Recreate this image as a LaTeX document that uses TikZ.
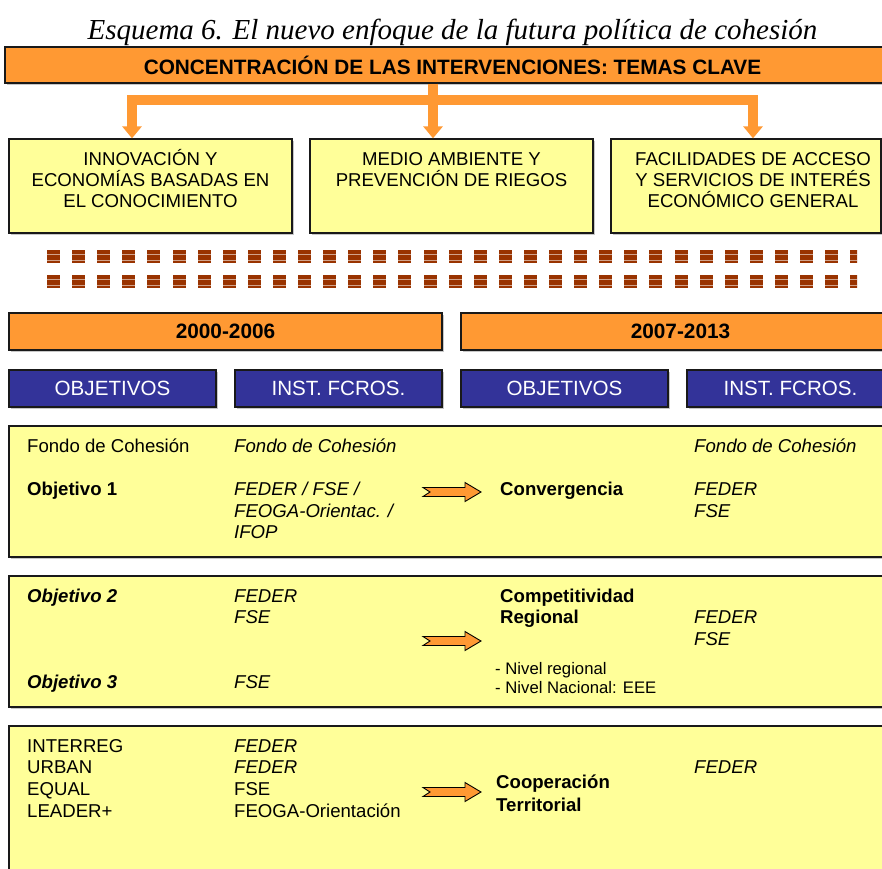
\documentclass[tikz,border=0pt]{standalone}
\usepackage{fontspec}
\setmainfont{Liberation Sans}
\newfontfamily\titlefont{Liberation Serif}
\usetikzlibrary{arrows.meta}
\definecolor{orng}{HTML}{FF9933}
\definecolor{yel}{HTML}{FFFF99}
\definecolor{blu}{HTML}{333399}
\definecolor{brn}{HTML}{993300}
\tikzset{
 shd/.style={preaction={fill=black!22,transform canvas={shift={(2pt,-2pt)}}}},
 bx/.style={shd,draw=black!90,line width=1.3pt,rectangle,inner sep=0pt},
 ybox/.style={bx,fill=yel},
 obox/.style={bx,fill=orng,font=\fontsize{20.8}{24}\selectfont\bfseries},
 bbox/.style={bx,fill=blu,text=white,font=\fontsize{20.6}{24}\selectfont},
 tx/.style={anchor=base west,inner sep=0pt,font=\fontsize{18.6}{21}\selectfont},
 ti/.style={tx,font=\fontsize{18.6}{21}\selectfont\itshape},
 tb/.style={tx,font=\fontsize{18.6}{21}\selectfont\bfseries},
 tbi/.style={tx,font=\fontsize{18.6}{21}\selectfont\bfseries\itshape},
 ts/.style={tx,font=\fontsize{16.7}{20}\selectfont},
 tc/.style={anchor=base,inner sep=0pt,font=\fontsize{18.6}{21}\selectfont},
 conn/.style={draw=orng,line width=9.5pt},
 arr/.style={conn,-{Triangle[width=19pt,length=12pt]}},
 notch/.pic={\filldraw[fill=orng,draw=black,line width=0.9pt,line join=miter]
   (0,-4.5) -- (42,-4.5) -- (42,-9.5) -- (58,0) -- (42,9.5) -- (42,4.5) -- (0,4.5) -- (7,0) -- cycle;}
}
\begin{document}
\begin{tikzpicture}[x=1pt,y=-1pt]
\useasboundingbox (0,0) rectangle (882,868);
\fill[white] (0,0) rectangle (882,868);

% title
\node[anchor=base,inner sep=0pt,font=\titlefont\itshape\fontsize{29}{32}\selectfont] (title) at (452.5,39)
  {Esquema 6. El nuevo enfoque de la futura política de cohesión};

% top bar
\node[obox,minimum width=895,minimum height=36] (top) at (452.5,65)
  {CONCENTRACIÓN DE LAS INTERVENCIONES: TEMAS CLAVE};

% three theme boxes
\node[ybox,minimum width=283,minimum height=94] (b1) at (150.5,186) {};
\node[ybox,minimum width=283,minimum height=94] (b2) at (451.5,186) {};
\node[ybox,minimum width=270,minimum height=94] (b3) at (746,186) {};

\node[tc] (b1a) at (150.5,165) {INNOVACIÓN Y};
\node[tc] (b1b) at (150.5,186) {ECONOMÍAS BASADAS EN};
\node[tc] (b1c) at (150.5,207) {EL CONOCIMIENTO};
\node[tc] (b2a) at (451.5,165) {MEDIO AMBIENTE Y};
\node[tc] (b2b) at (451.5,186) {PREVENCIÓN DE RIEGOS};
\node[tc] (b3a) at (753,165) {FACILIDADES DE ACCESO};
\node[tc] (b3b) at (753,186) {Y SERVICIOS DE INTERÉS};
\node[tc] (b3c) at (753,207) {ECONÓMICO GENERAL};

% connectors
\coordinate (c1) at (132,100);
\coordinate (c2) at (433,100);
\coordinate (c3) at (753,100);
\draw[conn] (top.south -| c2) -- (c2);
\draw[conn,line cap=rect] (c1) -- (c3);
\draw[arr] (c1) -- (c1 |- b1.north);
\draw[arr] (c2) -- (c2 |- b2.north);
\draw[arr] (c3) -- (c3 |- b3.north);

% dashed separator rows
\begin{scope}
\clip (40,245) rectangle (857,295);
\foreach \yy in {250,275} {
  \foreach \ii in {0,...,32} {
    \fill[brn] ({47+\ii*25.1},\yy) rectangle ++(13,13.3);
    \draw[white,opacity=0.55,line width=0.9pt] ({47+\ii*25.1},{\yy+4.3}) -- ++(13,0);
    \draw[white,opacity=0.55,line width=0.9pt] ({47+\ii*25.1},{\yy+10.6}) -- ++(13,0);
  }
}
\end{scope}

% period bars
\node[obox,minimum width=433,minimum height=37] (p1) at (225.5,331.5) {2000-2006};
\node[obox,minimum width=439,minimum height=37] (p2) at (680.5,331.5) {2007-2013};

% blue headers
\node[bbox,minimum width=207,minimum height=37] (h1) at (112.5,388.5) {OBJETIVOS};
\node[bbox,minimum width=207,minimum height=37] (h2) at (338.5,388.5) {INST. FCROS.};
\node[bbox,minimum width=207,minimum height=37] (h3) at (564.5,388.5) {OBJETIVOS};
\node[bbox,minimum width=207,minimum height=37] (h4) at (790.5,388.5) {INST. FCROS.};

% panels
\node[ybox,minimum width=891,minimum height=131] (pn1) at (454.5,491.5) {};
\node[ybox,minimum width=891,minimum height=131] (pn2) at (454.5,641.5) {};
\node[ybox,minimum width=891,minimum height=174] (pn3) at (454.5,813) {};

% panel 1
\node[tx] (a1) at (27,452) {Fondo de Cohesión};
\node[ti] (a2) at (234,452) {Fondo de Cohesión};
\node[ti] (a3) at (694,452) {Fondo de Cohesión};
\node[tb] (a4) at (27,495) {Objetivo 1};
\node[ti] (a5) at (234,495) {FEDER / FSE /};
\node[ti] (a6) at (234,517) {FEOGA-Orientac. /};
\node[ti] (a7) at (234,538) {IFOP};
\node[tb] (a8) at (500,495) {Convergencia};
\node[ti] (a9) at (694,495) {FEDER};
\node[ti] (a10) at (694,517) {FSE};
\pic at (423,492) {notch};

% panel 2
\node[tbi] (d1) at (27,602) {Objetivo 2};
\node[ti] (d2) at (234,602) {FEDER};
\node[ti] (d3) at (234,623) {FSE};
\node[tb] (d4) at (500,602) {Competitividad};
\node[tb] (d5) at (500,623) {Regional};
\node[ti] (d6) at (694,623) {FEDER};
\node[ti] (d7) at (694,645) {FSE};
\node[ts] (d8) at (495,674) {- Nivel regional};
\node[ts] (d9) at (495,693) {- Nivel Nacional: EEE};
\node[tbi] (d10) at (27,688) {Objetivo 3};
\node[ti] (d11) at (234,688) {FSE};
\pic at (423,641) {notch};

% panel 3
\node[tx] (e1) at (27,752) {INTERREG};
\node[tx] (e2) at (27,773) {URBAN};
\node[tx] (e3) at (27,795) {EQUAL};
\node[tx] (e4) at (27,817) {LEADER+};
\node[ti] (e5) at (234,752) {FEDER};
\node[ti] (e6) at (234,773) {FEDER};
\node[tx] (e7) at (234,795) {FSE};
\node[tx] (e8) at (234,817) {FEOGA-Orientación};
\node[tb] (e9) at (496,788) {Cooperación};
\node[tb] (e10) at (496,811) {Territorial};
\node[ti] (e11) at (694,773) {FEDER};
\pic at (423,792) {notch};
\end{tikzpicture}
\end{document}
